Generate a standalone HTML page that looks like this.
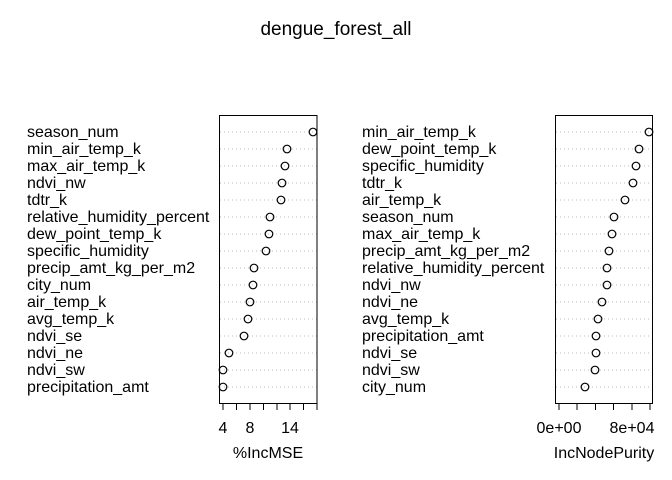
<!DOCTYPE html>
<html><head><style>html,body{margin:0;padding:0;background:#fff}svg{display:block}text{font-family:"Liberation Sans",Arial,sans-serif;fill:#000}</style></head>
<body>
<svg width="672" height="480" viewBox="0 0 672 480" xmlns="http://www.w3.org/2000/svg">
<text x="336" y="35" font-size="19" text-anchor="middle">dengue_forest_all</text>
<g font-size="16">
<text x="27" y="137">season_num</text>
<text x="27" y="154">min_air_temp_k</text>
<text x="27" y="171">max_air_temp_k</text>
<text x="27" y="188">ndvi_nw</text>
<text x="27" y="205">tdtr_k</text>
<text x="27" y="222">relative_humidity_percent</text>
<text x="27" y="239">dew_point_temp_k</text>
<text x="27" y="256">specific_humidity</text>
<text x="27" y="273">precip_amt_kg_per_m2</text>
<text x="27" y="290">city_num</text>
<text x="27" y="307">air_temp_k</text>
<text x="27" y="324">avg_temp_k</text>
<text x="27" y="341">ndvi_se</text>
<text x="27" y="358">ndvi_ne</text>
<text x="27" y="375">ndvi_sw</text>
<text x="27" y="392">precipitation_amt</text>

<text x="362" y="137">min_air_temp_k</text>
<text x="362" y="154">dew_point_temp_k</text>
<text x="362" y="171">specific_humidity</text>
<text x="362" y="188">tdtr_k</text>
<text x="362" y="205">air_temp_k</text>
<text x="362" y="222">season_num</text>
<text x="362" y="239">max_air_temp_k</text>
<text x="362" y="256">precip_amt_kg_per_m2</text>
<text x="362" y="273">relative_humidity_percent</text>
<text x="362" y="290">ndvi_nw</text>
<text x="362" y="307">ndvi_ne</text>
<text x="362" y="324">avg_temp_k</text>
<text x="362" y="341">precipitation_amt</text>
<text x="362" y="358">ndvi_se</text>
<text x="362" y="375">ndvi_sw</text>
<text x="362" y="392">city_num</text>
</g>
<g stroke="#bbb" stroke-width="1" stroke-dasharray="1,3">
<path d="M220 132H317M220 149H317M220 166H317M220 183H317M220 200H317M220 217H317M220 234H317M220 251H317M220 268H317M220 285H317M220 302H317M220 319H317M220 336H317M220 353H317M220 370H317M220 387H317"/>
<path d="M556 132H652M556 149H652M556 166H652M556 183H652M556 200H652M556 217H652M556 234H652M556 251H652M556 268H652M556 285H652M556 302H652M556 319H652M556 336H652M556 353H652M556 370H652M556 387H652"/>
</g>
<g fill="none" stroke="#000" stroke-width="1">
<rect x="219.5" y="115.5" width="97.5" height="288"/>
<rect x="555.5" y="115.5" width="97" height="288"/>
<path d="M223 403v7M236.5 403v7M250 403v7M263.5 403v7M277 403v7M290 403v7M303.5 403v7M317 403v7"/>
<path d="M559 403v7M577 403v7M595.5 403v7M613.5 403v7M632 403v7M650 403v7"/>
<g stroke-width="1.2">
<circle cx="313" cy="132" r="3.8"/><circle cx="287" cy="149" r="3.8"/><circle cx="285" cy="166" r="3.8"/><circle cx="282" cy="183" r="3.8"/><circle cx="281" cy="200" r="3.8"/><circle cx="270" cy="217" r="3.8"/><circle cx="269" cy="234" r="3.8"/><circle cx="266" cy="251" r="3.8"/><circle cx="254" cy="268" r="3.8"/><circle cx="253" cy="285" r="3.8"/><circle cx="250" cy="302" r="3.8"/><circle cx="248" cy="319" r="3.8"/><circle cx="244" cy="336" r="3.8"/><circle cx="229" cy="353" r="3.8"/><circle cx="223" cy="370" r="3.8"/><circle cx="223" cy="387" r="3.8"/>
<circle cx="649" cy="132" r="3.8"/><circle cx="639" cy="149" r="3.8"/><circle cx="636" cy="166" r="3.8"/><circle cx="633" cy="183" r="3.8"/><circle cx="625" cy="200" r="3.8"/><circle cx="614" cy="217" r="3.8"/><circle cx="612" cy="234" r="3.8"/><circle cx="609" cy="251" r="3.8"/><circle cx="607" cy="268" r="3.8"/><circle cx="607" cy="285" r="3.8"/><circle cx="602" cy="302" r="3.8"/><circle cx="598" cy="319" r="3.8"/><circle cx="596" cy="336" r="3.8"/><circle cx="596" cy="353" r="3.8"/><circle cx="595" cy="370" r="3.8"/><circle cx="585" cy="387" r="3.8"/>
</g>
</g>
<g font-size="16" text-anchor="middle">
<text x="223" y="433">4</text><text x="250" y="433">8</text><text x="290" y="433">14</text>
<text x="559" y="433">0e+00</text><text x="632" y="433">8e+04</text>
<text x="268" y="458">%IncMSE</text>
<text x="604" y="458">IncNodePurity</text>
</g>
</svg>
</body></html>
